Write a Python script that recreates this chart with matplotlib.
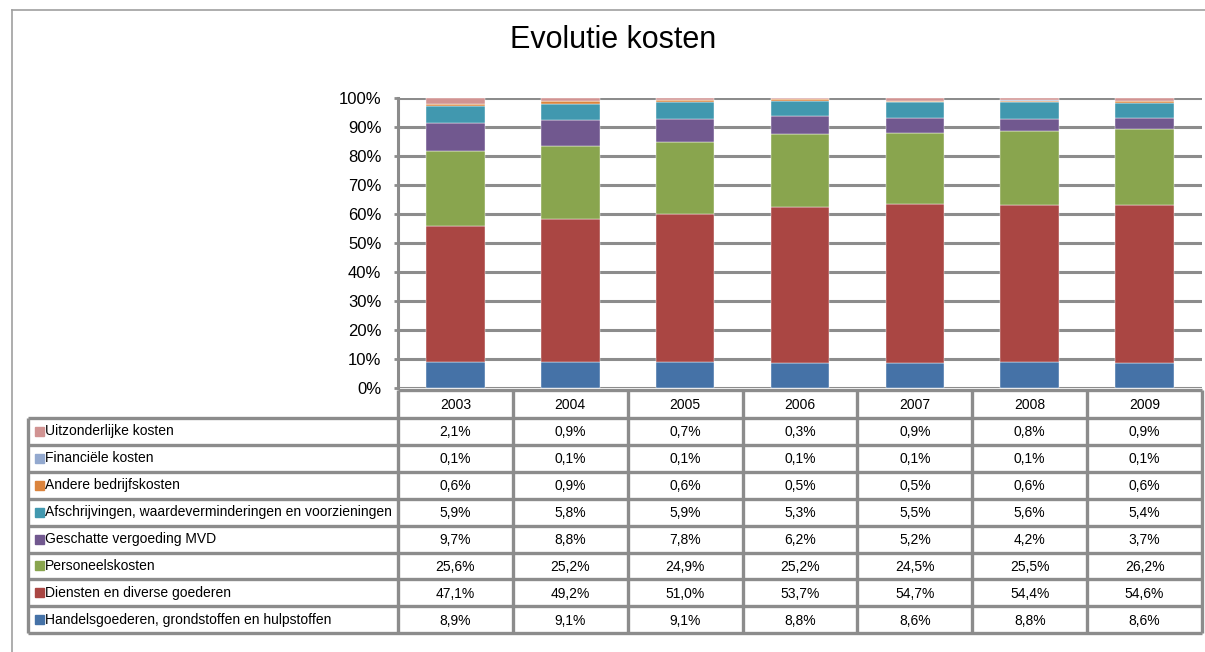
import matplotlib
matplotlib.use("Agg")
import matplotlib.pyplot as plt
from matplotlib.lines import Line2D
from matplotlib.patches import Rectangle
import numpy as np

plt.rcParams['font.family'] = ['Liberation Sans', 'DejaVu Sans']

years = ["2003", "2004", "2005", "2006", "2007", "2008", "2009"]

# series, bottom to top
series_names = [
    "Handelsgoederen, grondstoffen en hulpstoffen",
    "Diensten en diverse goederen",
    "Personeelskosten",
    "Geschatte vergoeding MVD",
    "Afschrijvingen, waardeverminderingen en voorzieningen",
    "Andere bedrijfskosten",
    "Financiële kosten",
    "Uitzonderlijke kosten",
]
handels = [8.9, 9.1, 9.1, 8.8, 8.6, 8.8, 8.6]
diensten = [47.1, 49.2, 51.0, 53.7, 54.7, 54.4, 54.6]
personeel = [25.6, 25.2, 24.9, 25.2, 24.5, 25.5, 26.2]
mvd = [9.7, 8.8, 7.8, 6.2, 5.2, 4.2, 3.7]
afschr = [5.9, 5.8, 5.9, 5.3, 5.5, 5.6, 5.4]
andere = [0.6, 0.9, 0.6, 0.5, 0.5, 0.6, 0.6]
financ = [0.1, 0.1, 0.1, 0.1, 0.1, 0.1, 0.1]
uitz = [2.1, 0.9, 0.7, 0.3, 0.9, 0.8, 0.9]

colors = ["#4572A7", "#AA4643", "#89A54E", "#71588F",
          "#4198AF", "#DB843D", "#93A9CF", "#D19392"]

yticks = [0, 10, 20, 30, 40, 50, 60, 70, 80, 90, 100]

data = np.array([handels, diensten, personeel, mvd, afschr, andere, financ, uitz])
shares = data / data.sum(axis=0) * 100

W, H = 1205, 652
fig = plt.figure(figsize=(W / 100, H / 100), dpi=100)
fig.patch.set_facecolor("white")

GRID = "#8c8c8c"

# outer frame (left + top)
fig.add_artist(Line2D([12 / W, 12 / W], [0, 1 - 10 / H], transform=fig.transFigure,
                      color="#a0a0a0", lw=1.2))
fig.add_artist(Line2D([12 / W, 1], [1 - 10 / H, 1 - 10 / H], transform=fig.transFigure,
                      color="#a0a0a0", lw=1.2))

fig.text(613 / W, 1 - 40 / H, "Evolutie kosten", ha="center", va="center",
         fontsize=22, color="black")

# plot area
x0, x1 = 398, 1202
ytop, ybot = 98, 388
ax = fig.add_axes([x0 / W, 1 - ybot / H, (x1 - x0) / W, (ybot - ytop) / H])
n = len(years)
x = np.arange(n)
bottom = np.zeros(n)
for i, name in enumerate(series_names):
    ax.bar(x, shares[i], width=0.51, bottom=bottom, color=colors[i],
           edgecolor="white", linewidth=0.3, zorder=3)
    bottom += shares[i]
ax.set_xlim(-0.5, n - 0.5)
ax.set_ylim(0, 100)
ax.set_yticks(yticks)
ax.set_yticklabels([f"{v}%" for v in yticks], fontsize=12)
ax.set_xticks([])
for v in yticks:
    ax.axhline(v, color=GRID, lw=2.2, zorder=1)
for s in ["top", "right", "bottom"]:
    ax.spines[s].set_visible(False)
ax.spines["left"].set_color(GRID)
ax.spines["left"].set_linewidth(2.2)
ax.tick_params(axis="y", length=3, width=2, color=GRID, pad=9)
ax.set_facecolor("white")

# data table
tx0 = 28
thead_top, thead_bot = 390, 418
row_h = 26.9
nrows = len(series_names)
tbot = thead_bot + nrows * row_h
tax = fig.add_axes([0, 0, 1, 1], zorder=5)
tax.set_xlim(0, W)
tax.set_ylim(H, 0)
tax.axis("off")
tax.patch.set_alpha(0)
col_w = (x1 - x0) / n

lw_t = 2.4
# header row
tax.plot([x0, x1], [thead_top, thead_top], color=GRID, lw=lw_t, solid_capstyle="butt")
for j in range(n + 1):
    xx = x0 + j * col_w
    tax.plot([xx, xx], [thead_top, tbot], color=GRID, lw=lw_t, solid_capstyle="butt")
for j, yr in enumerate(years):
    tax.text(x0 + (j + 0.5) * col_w, (thead_top + thead_bot) / 2 + 1, yr,
             ha="center", va="center", fontsize=10)
# rows (top row = last series)
for r in range(nrows + 1):
    yy = thead_bot + r * row_h
    tax.plot([tx0, x1], [yy, yy], color=GRID, lw=lw_t, solid_capstyle="butt")
tax.plot([tx0, tx0], [thead_bot, tbot], color=GRID, lw=lw_t, solid_capstyle="butt")
for r in range(nrows):
    si = nrows - 1 - r
    yc = thead_bot + (r + 0.5) * row_h
    tax.add_patch(Rectangle((35, yc - 4.5), 9, 9, color=colors[si]))
    tax.text(45, yc, series_names[si], ha="left", va="center", fontsize=10.0)
    for j in range(n):
        lab = f"{data[si][j]:.1f}%".replace(".", ",")
        tax.text(x0 + (j + 0.5) * col_w, yc + 1, lab, ha="center", va="center",
                 fontsize=10)

fig.savefig("out.png", dpi=100, facecolor="white")
